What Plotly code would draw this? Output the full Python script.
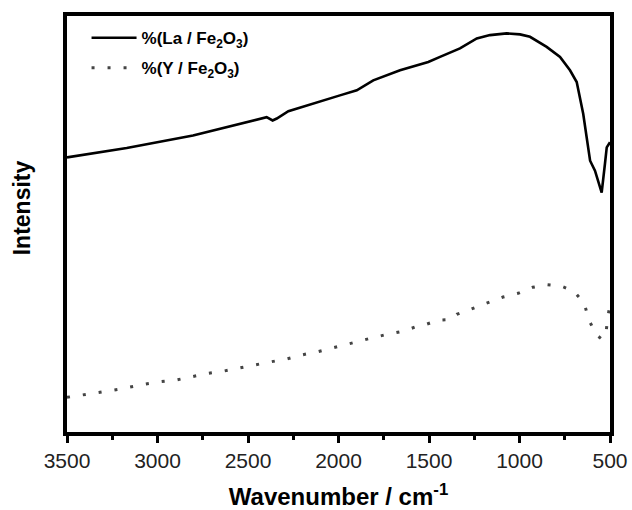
import plotly.graph_objects as go

# Wavenumber (cm^-1) and relative intensity
wn_la = [3500, 3170, 2804, 2600, 2434, 2397, 2364, 2341, 2277, 2120, 1992, 1899, 1808,
         1660, 1532, 1504, 1439, 1329, 1236, 1163, 1071, 997, 942, 850, 776, 721, 684,
         666, 648, 629, 610, 583, 546, 528, 518, 500]
int_la = [273.3, 282.7, 295, 304, 311.7, 313.3, 310, 312, 319.3, 328.3, 335, 340, 350,
          360, 366.7, 368.3, 373.3, 381.7, 391.7, 395, 396.7, 395.7, 393.3, 383.3, 373.3,
          360, 348.3, 333.3, 316.7, 293.3, 270, 260, 238.3, 266.7, 283.3, 288.3]

wn_y = [3500, 3386, 3294, 3207, 3079, 2986, 2898, 2808, 2723, 2633, 2544, 2456, 2369,
        2286, 2203, 2112, 2023, 1937, 1835, 1743, 1682, 1633, 1562, 1513, 1452, 1380,
        1347, 1259, 1176, 1091, 1008, 927, 848, 771, 699, 642, 618, 577, 550, 524, 515, 500]
int_y = [34.5, 37.7, 40, 42.7, 47.3, 50, 51.7, 55, 58.3, 60.7, 64, 67.3, 70,
         72.7, 76.7, 80, 84.3, 88.3, 92.7, 96.7, 99.3, 100.7, 105.5, 107.3, 111.3, 112,
         117, 123, 129, 134.3, 138, 144, 146.7, 145.3, 140, 128, 112, 97, 93, 94.7, 110.7, 127.3]

series_names = ["<b>%(La / Fe<sub>2</sub>O<sub>3</sub>)</b>", "<b>%(Y / Fe<sub>2</sub>O<sub>3</sub>)</b>"]
x_ticks = [3500, 3000, 2500, 2000, 1500, 1000, 500]

FONT = "Liberation Sans, Arial, sans-serif"

fig = go.Figure()
fig.add_trace(go.Scatter(x=wn_la, y=int_la, mode="lines", name=series_names[0],
                         legendgroup="a",
                         line=dict(color="black", width=2.6)))
fig.add_trace(go.Scatter(x=wn_y, y=int_y, mode="lines", name=series_names[1],
                         legendgroup="b",
                         line=dict(color="#444444", width=3, dash="3px,13px")))

fig.update_layout(
    width=632, height=510,
    margin=dict(l=67, r=22, t=16, b=78, autoexpand=False),
    plot_bgcolor="white", paper_bgcolor="white",
    font=dict(family=FONT, color="black"),
    showlegend=True,
    legend=dict(x=0.036, y=0.99, xanchor="left", yanchor="top",
                bgcolor="rgba(0,0,0,0)", borderwidth=0,
                font=dict(family=FONT, size=17, color="black"),
                tracegroupgap=5, itemwidth=45),
    xaxis=dict(range=[3500, 500], tickvals=x_ticks, automargin=False,
               ticks="outside", ticklen=7, tickwidth=2.5, tickcolor="black",
               minor=dict(dtick=250, tick0=500, ticks="outside", ticklen=4,
                          tickwidth=2.5, tickcolor="black"),
               showline=True, linewidth=4, linecolor="black", mirror=True,
               showgrid=False, zeroline=False,
               tickfont=dict(family=FONT, size=21, color="#222222"),
               title=dict(text="<b>Wavenumber / cm<sup>-1</sup></b>",
                          font=dict(family=FONT, size=24, color="black"), standoff=21)),
    yaxis=dict(range=[0, 414], showticklabels=False, ticks="", automargin=False,
               showline=True, linewidth=4, linecolor="black", mirror=True,
               showgrid=False, zeroline=False),
    annotations=[dict(text="<b>Intensity</b>", textangle=-90, showarrow=False,
                      xref="paper", yref="paper", x=-0.083, y=0.54,
                      xanchor="center", yanchor="middle",
                      font=dict(family=FONT, size=23, color="black"))],
)

fig.write_html("out.html")
